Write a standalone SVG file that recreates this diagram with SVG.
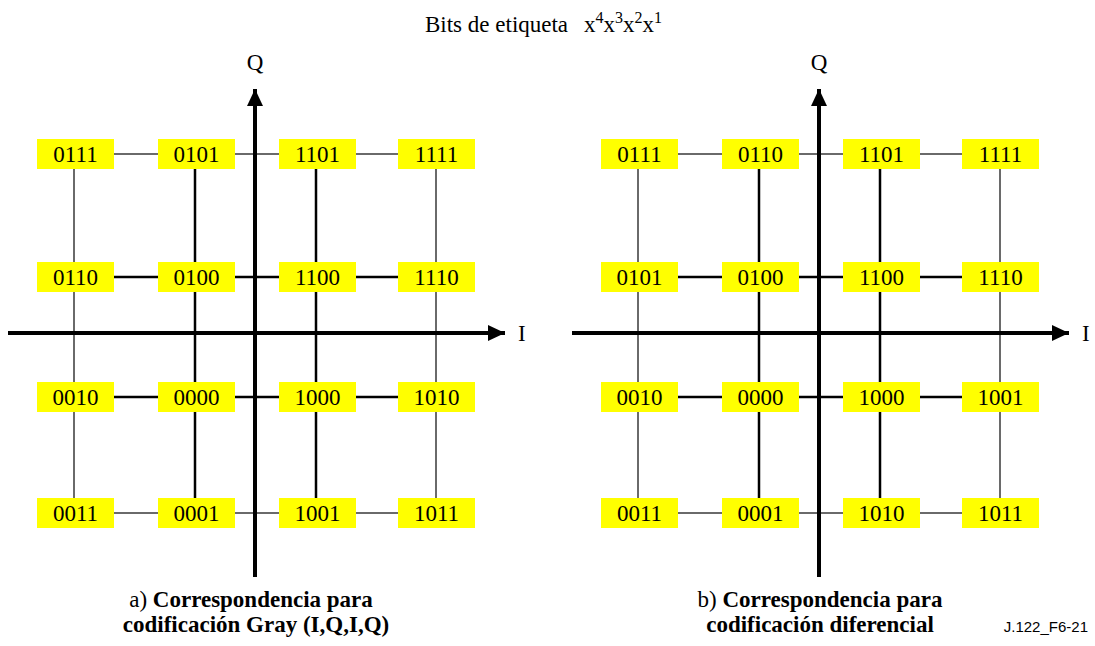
<svg xmlns="http://www.w3.org/2000/svg" width="1095" height="646" viewBox="0 0 1095 646">
  <style>
    .t { font-family: "Liberation Serif", "Times New Roman", serif; font-size: 23px; fill: #000; }
    .b { font-weight: bold; }
    .lbl { text-anchor: middle; }
    .box { fill: #ffff00; stroke: none; }
    .thin { stroke: #383838; stroke-width: 1.5; fill: none; }
    .thick { stroke: #000; stroke-width: 2.5; fill: none; }
    .axis { stroke: #000; stroke-width: 4; fill: none; }
    .ref { font-family: "Liberation Sans", Arial, sans-serif; font-size: 15px; fill: #000; text-anchor: end; }
  </style>
  <defs>
    <marker id="arr" viewBox="0 0 17 16" refX="17" refY="8" markerWidth="17" markerHeight="16" markerUnits="userSpaceOnUse" orient="auto">
      <path d="M0,0 L17,8 L0,16 Z" fill="#000"/>
    </marker>
    <g id="cell">
      <rect class="box" x="-38.5" y="-15" width="77" height="30"/>
    </g>
  </defs>
  <rect width="1095" height="646" fill="#fff"/>

  <!-- title -->
  <text class="t" x="425" y="32">Bits de etiqueta<tspan x="584">x</tspan><tspan font-size="16" dy="-9">4</tspan><tspan dy="9">x</tspan><tspan font-size="16" dy="-9">3</tspan><tspan dy="9">x</tspan><tspan font-size="16" dy="-9">2</tspan><tspan dy="9">x</tspan><tspan font-size="16" dy="-9">1</tspan></text>

  <!-- grid connectors: rows 154/277/397/513, columns 74/195/316/436 (right panel +564) -->
  <g id="connectors">
    <g id="grid-a">
      <line class="thin" x1="74" y1="154" x2="436" y2="154"/>
      <line class="thick" x1="74" y1="277" x2="436" y2="277"/>
      <line class="thick" x1="74" y1="397" x2="436" y2="397"/>
      <line class="thin" x1="74" y1="513" x2="436" y2="513"/>
      <line class="thin" x1="74" y1="154" x2="74" y2="513"/>
      <line class="thick" x1="195" y1="154" x2="195" y2="513"/>
      <line class="thick" x1="316" y1="154" x2="316" y2="513"/>
      <line class="thin" x1="436" y1="154" x2="436" y2="513"/>
    </g>
    <g id="grid-b">
      <line class="thin" x1="638" y1="154" x2="1000" y2="154"/>
      <line class="thick" x1="638" y1="277" x2="1000" y2="277"/>
      <line class="thick" x1="638" y1="397" x2="1000" y2="397"/>
      <line class="thin" x1="638" y1="513" x2="1000" y2="513"/>
      <line class="thin" x1="638" y1="154" x2="638" y2="513"/>
      <line class="thick" x1="759" y1="154" x2="759" y2="513"/>
      <line class="thick" x1="880" y1="154" x2="880" y2="513"/>
      <line class="thin" x1="1000" y1="154" x2="1000" y2="513"/>
    </g>
  </g>

  <!-- axes -->
  <g id="axes-a">
    <line class="axis" x1="8" y1="333" x2="505" y2="333" marker-end="url(#arr)"/>
    <line class="axis" x1="255" y1="577" x2="255" y2="89" marker-end="url(#arr)"/>
    <text class="t lbl" x="255" y="70">Q</text>
    <text class="t" x="518" y="341">I</text>
  </g>
  <g id="axes-b">
    <line class="axis" x1="572" y1="333" x2="1069" y2="333" marker-end="url(#arr)"/>
    <line class="axis" x1="819" y1="577" x2="819" y2="89" marker-end="url(#arr)"/>
    <text class="t lbl" x="819" y="70">Q</text>
    <text class="t" x="1082" y="341">I</text>
  </g>

  <!-- constellation points, panel a -->
  <g id="a-0111"><use href="#cell" x="75.5" y="154"/><text class="t lbl" x="75.5" y="162">0111</text></g>
  <g id="a-0101"><use href="#cell" x="196.5" y="154"/><text class="t lbl" x="196.5" y="162">0101</text></g>
  <g id="a-1101"><use href="#cell" x="317.5" y="154"/><text class="t lbl" x="317.5" y="162">1101</text></g>
  <g id="a-1111"><use href="#cell" x="436.5" y="154"/><text class="t lbl" x="436.5" y="162">1111</text></g>
  <g id="a-0110"><use href="#cell" x="75.5" y="277"/><text class="t lbl" x="75.5" y="285">0110</text></g>
  <g id="a-0100"><use href="#cell" x="196.5" y="277"/><text class="t lbl" x="196.5" y="285">0100</text></g>
  <g id="a-1100"><use href="#cell" x="317.5" y="277"/><text class="t lbl" x="317.5" y="285">1100</text></g>
  <g id="a-1110"><use href="#cell" x="436.5" y="277"/><text class="t lbl" x="436.5" y="285">1110</text></g>
  <g id="a-0010"><use href="#cell" x="75.5" y="397"/><text class="t lbl" x="75.5" y="405">0010</text></g>
  <g id="a-0000"><use href="#cell" x="196.5" y="397"/><text class="t lbl" x="196.5" y="405">0000</text></g>
  <g id="a-1000"><use href="#cell" x="317.5" y="397"/><text class="t lbl" x="317.5" y="405">1000</text></g>
  <g id="a-1010"><use href="#cell" x="436.5" y="397"/><text class="t lbl" x="436.5" y="405">1010</text></g>
  <g id="a-0011"><use href="#cell" x="75.5" y="513"/><text class="t lbl" x="75.5" y="521">0011</text></g>
  <g id="a-0001"><use href="#cell" x="196.5" y="513"/><text class="t lbl" x="196.5" y="521">0001</text></g>
  <g id="a-1001"><use href="#cell" x="317.5" y="513"/><text class="t lbl" x="317.5" y="521">1001</text></g>
  <g id="a-1011"><use href="#cell" x="436.5" y="513"/><text class="t lbl" x="436.5" y="521">1011</text></g>

  <!-- constellation points, panel b -->
  <g id="b-0111"><use href="#cell" x="639.5" y="154"/><text class="t lbl" x="639.5" y="162">0111</text></g>
  <g id="b-0110"><use href="#cell" x="760.5" y="154"/><text class="t lbl" x="760.5" y="162">0110</text></g>
  <g id="b-1101"><use href="#cell" x="881.5" y="154"/><text class="t lbl" x="881.5" y="162">1101</text></g>
  <g id="b-1111"><use href="#cell" x="1000.5" y="154"/><text class="t lbl" x="1000.5" y="162">1111</text></g>
  <g id="b-0101"><use href="#cell" x="639.5" y="277"/><text class="t lbl" x="639.5" y="285">0101</text></g>
  <g id="b-0100"><use href="#cell" x="760.5" y="277"/><text class="t lbl" x="760.5" y="285">0100</text></g>
  <g id="b-1100"><use href="#cell" x="881.5" y="277"/><text class="t lbl" x="881.5" y="285">1100</text></g>
  <g id="b-1110"><use href="#cell" x="1000.5" y="277"/><text class="t lbl" x="1000.5" y="285">1110</text></g>
  <g id="b-0010"><use href="#cell" x="639.5" y="397"/><text class="t lbl" x="639.5" y="405">0010</text></g>
  <g id="b-0000"><use href="#cell" x="760.5" y="397"/><text class="t lbl" x="760.5" y="405">0000</text></g>
  <g id="b-1000"><use href="#cell" x="881.5" y="397"/><text class="t lbl" x="881.5" y="405">1000</text></g>
  <g id="b-1001"><use href="#cell" x="1000.5" y="397"/><text class="t lbl" x="1000.5" y="405">1001</text></g>
  <g id="b-0011"><use href="#cell" x="639.5" y="513"/><text class="t lbl" x="639.5" y="521">0011</text></g>
  <g id="b-0001"><use href="#cell" x="760.5" y="513"/><text class="t lbl" x="760.5" y="521">0001</text></g>
  <g id="b-1010"><use href="#cell" x="881.5" y="513"/><text class="t lbl" x="881.5" y="521">1010</text></g>
  <g id="b-1011"><use href="#cell" x="1000.5" y="513"/><text class="t lbl" x="1000.5" y="521">1011</text></g>

  <!-- captions -->
  <g id="caption-a">
    <text class="t lbl" x="251" y="607">a) <tspan class="b">Correspondencia para</tspan></text>
    <text class="t lbl b" x="256" y="632">codificación Gray (I,Q,I,Q)</text>
  </g>
  <g id="caption-b">
    <text class="t lbl" x="820" y="607">b) <tspan class="b">Correspondencia para</tspan></text>
    <text class="t lbl b" x="820" y="632">codificación diferencial</text>
  </g>
  <text class="ref" x="1088" y="632">J.122_F6-21</text>
</svg>
